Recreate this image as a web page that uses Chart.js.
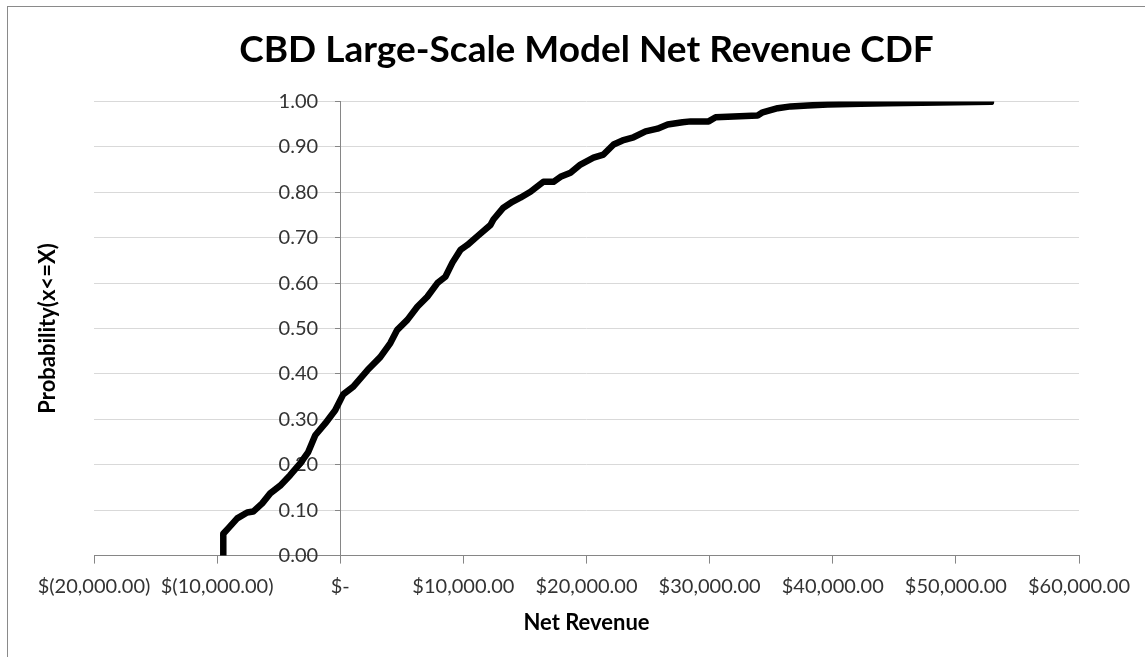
<!DOCTYPE html>
<html>
<head>
<meta charset="utf-8">
<title>CBD Large-Scale Model Net Revenue CDF</title>
<script src="https://cdn.jsdelivr.net/npm/chart.js@4.4.1/dist/chart.umd.min.js"></script>
<style>
  html, body { margin: 0; padding: 0; background: #fff; }
  #wrap { position: relative; width: 1145px; height: 657px; }
  #frame {
    position: absolute; left: 7px; top: 6px; right: 0; bottom: 0;
    border-left: 1px solid #8a8a8a; border-top: 1px solid #8a8a8a;
    pointer-events: none;
  }
  canvas { position: absolute; left: 0; top: 0; }
</style>
</head>
<body>
<div id="wrap">
  <canvas id="cdf" width="1145" height="657"></canvas>
  <div id="frame"></div>
</div>
<script>
// net revenue ($) and cumulative probability along the CDF
const revenue = [
  -9500, -9500, -9100, -8370, -7560, -7070, -6340, -5690, -4880, -4070,
  -3250, -2600, -2030, -1220, -410, 240, 1060, 2200, 3250, 4070,
  4630, 5450, 6260, 7070, 7890, 8540, 9110, 9760, 10330, 11220,
  12200, 12440, 13250, 13980, 14630, 15450, 16500, 17320, 17890, 18700,
  19510, 20570, 21380, 22200, 22930, 23820, 24800, 25770, 26590, 27800,
  28460, 29920, 30490, 31950, 33900, 34310, 35530, 36590, 37970, 39590,
  42280, 44470, 52850
];
const probability = [
  0.000, 0.048, 0.060, 0.082, 0.095, 0.097, 0.115, 0.137, 0.154, 0.177,
  0.203, 0.228, 0.265, 0.291, 0.320, 0.355, 0.372, 0.408, 0.437, 0.468,
  0.497, 0.519, 0.548, 0.570, 0.600, 0.614, 0.645, 0.673, 0.684, 0.705,
  0.728, 0.740, 0.766, 0.779, 0.788, 0.801, 0.823, 0.823, 0.834, 0.843,
  0.861, 0.876, 0.883, 0.905, 0.914, 0.921, 0.934, 0.940, 0.949, 0.954,
  0.956, 0.956, 0.965, 0.967, 0.969, 0.976, 0.985, 0.989, 0.991, 0.993,
  0.995, 0.996, 0.999
];

const xRange = { min: -20000, max: 60000, step: 10000 };
const yRange = { min: 0, max: 1, step: 0.1 };

const chartTitle = "CBD Large-Scale Model Net Revenue CDF";
const xTitle = "Net Revenue";
const yTitle = "Probability(x<=X)";

const FONT = "Lato, 'Open Sans', sans-serif";
const axisGrey = "#868686";
const gridGrey = "#d9d9d9";
const textColor = "#333333";

// the y axis crosses at $0; its labels are anchored a little to the left of it
const yLabelAnchor = -1800;

// accounting-style dollar labels: $(10,000.00), $-, $10,000.00
function dollars(v) {
  if (v === 0) return "$-";
  const s = Math.abs(v).toLocaleString("en-US", { minimumFractionDigits: 2, maximumFractionDigits: 2 });
  return v < 0 ? `$(${s})` : `$${s}`;
}

// vertical axis title sits at the far left, away from the y axis
const sideTitle = {
  id: "sideTitle",
  afterDraw(chart) {
    const { ctx, chartArea } = chart;
    ctx.save();
    ctx.translate(48, (chartArea.top + chartArea.bottom) / 2);
    ctx.rotate(-Math.PI / 2);
    ctx.font = `bold 22px ${FONT}`;
    ctx.fillStyle = "#000";
    ctx.textAlign = "center";
    ctx.textBaseline = "middle";
    ctx.fillText(yTitle, 0, 0);
    ctx.restore();
  },
};

const points = revenue.map((r, i) => ({ x: r, y: probability[i] }));

new Chart(document.getElementById("cdf"), {
  type: "line",
  data: {
    datasets: [{
      data: points,
      borderColor: "#000",
      borderWidth: 6.5,
      borderCapStyle: "round",
      borderJoinStyle: "round",
      pointRadius: 0,
      tension: 0,
      fill: false,
    }],
  },
  options: {
    responsive: false,
    animation: false,
    events: [],
    layout: { padding: { left: 94, right: 66, top: 0, bottom: 21 } },
    plugins: {
      legend: { display: false },
      tooltip: { enabled: false },
      title: {
        display: true,
        text: chartTitle,
        color: "#000",
        font: { family: FONT, size: 37, weight: "bold" },
        padding: { top: 28, bottom: 29 },
      },
    },
    scales: {
      x: {
        type: "linear",
        position: "bottom",
        min: xRange.min,
        max: xRange.max,
        afterBuildTicks(scale) {
          const t = [];
          for (let v = xRange.min; v <= xRange.max; v += xRange.step) t.push({ value: v });
          scale.ticks = t;
        },
        ticks: {
          color: textColor,
          font: { family: FONT, size: 20 },
          padding: 11,
          maxRotation: 0,
          autoSkip: false,
          callback: (v) => dollars(v),
        },
        grid: { drawOnChartArea: false, drawTicks: true, tickLength: 8, color: axisGrey },
        border: { display: true, color: axisGrey, width: 1 },
        title: {
          display: true,
          text: xTitle,
          color: "#000",
          font: { family: FONT, size: 22, weight: "bold" },
          padding: { top: 0, bottom: 0 },
        },
      },
      // gridlines and the probability labels
      y: {
        type: "linear",
        position: { x: yLabelAnchor },
        min: yRange.min,
        max: yRange.max,
        ticks: {
          stepSize: yRange.step,
          color: textColor,
          font: { family: FONT, size: 20 },
          callback: (v) => v.toFixed(2),
        },
        grid: { color: gridGrey, drawTicks: false },
        border: { display: false },
      },
      // the axis line itself, crossing at $0
      yLine: {
        type: "linear",
        axis: "y",
        position: { x: 0 },
        min: yRange.min,
        max: yRange.max,
        ticks: { display: false, stepSize: yRange.step },
        grid: { drawOnChartArea: false, drawTicks: true, tickLength: 5, color: axisGrey },
        border: { display: true, color: axisGrey, width: 1 },
      },
    },
  },
  plugins: [sideTitle],
});
</script>
</body>
</html>
